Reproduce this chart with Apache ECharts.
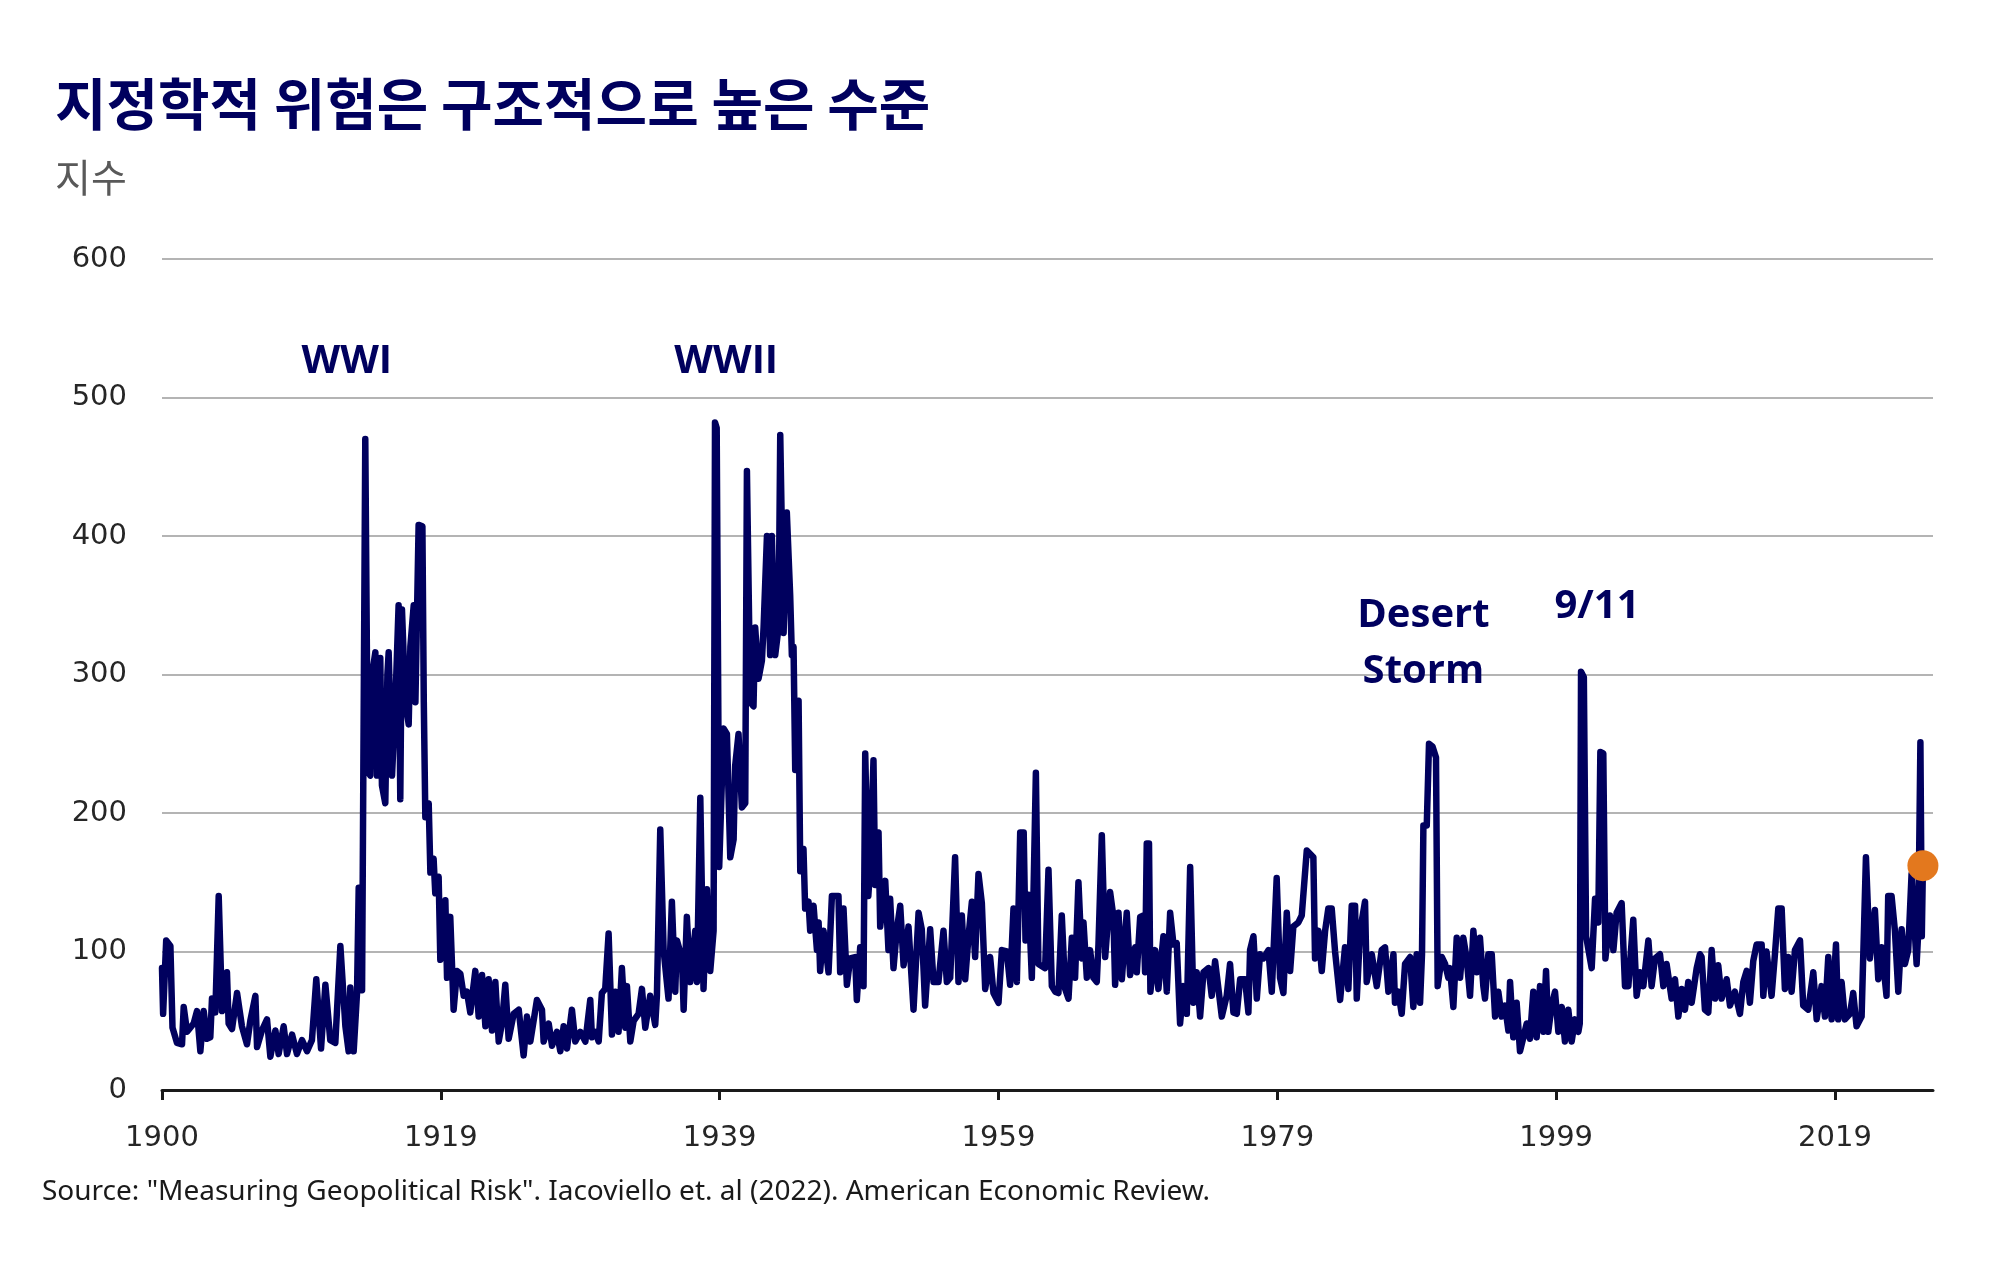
<!DOCTYPE html>
<html>
<head>
<meta charset="utf-8">
<script src="https://cdn.jsdelivr.net/npm/echarts@6/dist/echarts.min.js"></script>
<style>
  html, body { margin: 0; padding: 0; background: #fff; }
  #chart { width: 1994px; height: 1261px; }
</style>
</head>
<body>
<div id="chart"></div>
<script>
// GPR index as [year, value]
var gpr1900s = [
  [1900.00, 88], [1900.08, 55], [1900.3, 108], [1900.6, 104], [1900.75, 45], [1901.07, 34], [1901.43, 33],
  [1901.55, 60], [1901.79, 42], [1902.26, 48], [1902.5, 57], [1902.74, 28], [1902.98, 57], [1903.21, 37],
  [1903.45, 38], [1903.57, 66], [1903.81, 56], [1904.05, 140], [1904.29, 57], [1904.64, 85], [1904.76, 48],
  [1905.0, 44], [1905.36, 70], [1905.71, 46], [1906.07, 33], [1906.31, 50], [1906.67, 68], [1906.79, 31],
  [1907.14, 43], [1907.5, 51], [1907.74, 24], [1908.1, 43], [1908.33, 26], [1908.69, 46], [1908.93, 26],
  [1909.29, 40], [1909.64, 26], [1910.0, 36], [1910.36, 28], [1910.71, 36], [1911.02, 80], [1911.36, 30],
  [1911.67, 76], [1912.02, 36], [1912.38, 34], [1912.74, 104], [1913.1, 46], [1913.33, 28], [1913.45, 74],
  [1913.69, 28], [1913.93, 70], [1914.05, 146], [1914.29, 72]
];
var gpr1914s = [
  [1914.52, 470], [1914.7, 230], [1914.88, 227], [1915.0, 300], [1915.24, 316], [1915.36, 227], [1915.59, 312],
  [1915.71, 220], [1915.95, 207], [1916.1, 300], [1916.19, 316], [1916.43, 227], [1916.67, 280], [1916.9, 350],
  [1917.02, 210], [1917.14, 347], [1917.38, 280], [1917.62, 264], [1917.74, 320], [1917.98, 350], [1918.1, 280],
  [1918.33, 408], [1918.6, 407], [1918.7, 280], [1918.81, 197], [1919.05, 207], [1919.17, 157], [1919.4, 167],
  [1919.52, 142], [1919.76, 154], [1919.88, 94], [1920.24, 137], [1920.36, 81], [1920.59, 125], [1920.83, 58],
  [1921.07, 86], [1921.31, 84], [1921.55, 68], [1921.78, 71], [1922.02, 56], [1922.38, 86], [1922.62, 53],
  [1922.86, 83], [1923.1, 46], [1923.33, 80], [1923.57, 43], [1923.81, 78], [1924.05, 35], [1924.28, 48],
  [1924.52, 76], [1924.76, 37], [1925.12, 55], [1925.48, 58], [1925.83, 25], [1926.07, 53], [1926.31, 35],
  [1926.78, 65], [1927.14, 58], [1927.26, 35], [1927.62, 48], [1927.86, 32], [1928.21, 42], [1928.45, 28],
  [1928.69, 46], [1928.93, 30], [1929.28, 58], [1929.52, 35], [1929.88, 42], [1930.24, 35]
];
var gpr1930s = [
  [1930.59, 65], [1930.71, 38], [1930.95, 42], [1931.19, 35], [1931.42, 70], [1931.66, 73], [1931.9, 113],
  [1932.14, 40], [1932.38, 71], [1932.61, 42], [1932.85, 88], [1933.09, 45], [1933.21, 75], [1933.45, 35],
  [1933.69, 50], [1934.04, 55], [1934.28, 73], [1934.52, 45], [1934.87, 68], [1935.23, 47], [1935.35, 68],
  [1935.59, 188], [1935.83, 101], [1936.18, 66], [1936.42, 136], [1936.66, 71], [1936.78, 108], [1937.14, 95],
  [1937.26, 58], [1937.49, 125], [1937.73, 78], [1938.09, 115], [1938.21, 78], [1938.45, 211], [1938.68, 73],
  [1938.92, 145], [1939.16, 86], [1939.4, 115], [1939.5, 482], [1939.62, 478], [1939.8, 161], [1940.11, 261],
  [1940.35, 257], [1940.59, 168], [1940.83, 181], [1940.94, 234], [1941.18, 257], [1941.42, 204], [1941.66, 207],
  [1941.78, 447], [1942.02, 280], [1942.25, 277], [1942.37, 334], [1942.61, 297], [1942.85, 310], [1942.97, 334],
  [1943.21, 400], [1943.44, 314], [1943.56, 400], [1943.8, 314], [1944.04, 334], [1944.16, 473], [1944.4, 330],
  [1944.63, 417], [1944.87, 357], [1944.99, 314], [1945.11, 320], [1945.23, 231], [1945.47, 281], [1945.59, 158],
  [1945.82, 174], [1945.94, 131], [1946.18, 136], [1946.3, 115]
];
var gpr1946s = [
  [1946.54, 133], [1946.78, 101], [1946.9, 121], [1947.01, 86], [1947.25, 115], [1947.61, 85], [1947.85, 140],
  [1948.32, 140], [1948.44, 85], [1948.68, 131], [1948.92, 76], [1949.16, 95], [1949.51, 96], [1949.63, 65],
  [1949.87, 103], [1950.11, 75], [1950.23, 243], [1950.45, 140], [1950.58, 160], [1950.82, 238], [1950.94, 148],
  [1951.18, 186], [1951.3, 118], [1951.66, 151], [1951.89, 101], [1952.01, 138], [1952.25, 88], [1952.49, 116],
  [1952.73, 133], [1952.97, 90], [1953.32, 118], [1953.68, 58], [1954.04, 128], [1954.27, 116], [1954.51, 61],
  [1954.87, 116], [1955.11, 78], [1955.46, 78], [1955.82, 115], [1956.06, 78], [1956.3, 81], [1956.65, 168],
  [1956.89, 78], [1957.13, 126], [1957.37, 80], [1957.61, 111], [1957.85, 136], [1958.08, 96], [1958.32, 156],
  [1958.56, 135], [1958.8, 73], [1959.15, 96], [1959.39, 70], [1959.75, 63], [1959.99, 101], [1960.34, 100],
  [1960.58, 76], [1960.82, 131], [1961.06, 78], [1961.3, 186], [1961.55, 186], [1961.68, 108], [1961.89, 141],
  [1962.13, 81]
];
var gpr1962s = [
  [1962.42, 229], [1962.6, 91], [1963.08, 88], [1963.32, 159], [1963.56, 75], [1963.8, 71], [1964.03, 70],
  [1964.27, 126], [1964.51, 73], [1964.75, 66], [1964.99, 110], [1965.22, 81], [1965.46, 150], [1965.7, 95],
  [1965.82, 121], [1966.06, 81], [1966.29, 101], [1966.53, 81], [1966.77, 78], [1966.89, 105], [1967.13, 184],
  [1967.37, 96], [1967.72, 143], [1967.96, 125], [1968.08, 76], [1968.32, 128], [1968.56, 80], [1968.91, 128],
  [1969.15, 83], [1969.51, 103], [1969.63, 85], [1969.87, 125], [1970.1, 126], [1970.22, 85], [1970.34, 178],
  [1970.5, 178], [1970.6, 71], [1970.94, 101], [1971.17, 73], [1971.53, 111], [1971.77, 71], [1972.01, 128],
  [1972.25, 105], [1972.48, 106], [1972.72, 48], [1972.96, 75], [1973.2, 55], [1973.44, 161], [1973.67, 63],
  [1973.91, 85], [1974.15, 53], [1974.39, 85], [1974.75, 88], [1974.98, 68], [1975.22, 93], [1975.7, 53],
  [1976.05, 68], [1976.29, 91], [1976.53, 56], [1976.77, 55], [1977.01, 80], [1977.36, 80], [1977.6, 56],
  [1977.72, 101], [1977.96, 111]
];
var gpr1978s = [
  [1978.2, 66], [1978.43, 98], [1978.67, 95], [1979.03, 101], [1979.27, 71], [1979.62, 153], [1979.86, 81],
  [1980.1, 70], [1980.34, 128], [1980.58, 86], [1980.81, 118], [1981.17, 121], [1981.41, 126], [1981.77, 173],
  [1982.24, 168], [1982.36, 95], [1982.6, 115], [1982.84, 86], [1983.08, 115], [1983.31, 131], [1983.55, 131],
  [1983.79, 100], [1984.15, 65], [1984.5, 103], [1984.74, 73], [1984.98, 133], [1985.22, 133], [1985.34, 66],
  [1985.58, 115], [1985.93, 136], [1986.05, 78], [1986.41, 98], [1986.77, 75], [1987.12, 101], [1987.36, 103],
  [1987.6, 71], [1987.96, 98], [1988.07, 63], [1988.31, 71], [1988.55, 55], [1988.79, 91], [1989.15, 96],
  [1989.38, 60], [1989.62, 98], [1989.86, 63], [1990.0, 98], [1990.1, 191], [1990.34, 191], [1990.5, 250],
  [1990.75, 248], [1991.0, 240], [1991.12, 75], [1991.41, 96], [1991.65, 91], [1991.88, 81], [1992.0, 88],
  [1992.24, 60], [1992.48, 110], [1992.72, 81], [1992.95, 110], [1993.19, 95], [1993.43, 68], [1993.67, 115],
  [1993.91, 85], [1994.14, 110]
];
var gpr1994s = [
  [1994.38, 75], [1994.5, 66], [1994.74, 98], [1994.98, 98], [1995.22, 53], [1995.45, 71], [1995.69, 53],
  [1995.93, 61], [1996.17, 43], [1996.29, 78], [1996.52, 38], [1996.76, 63], [1997.0, 28], [1997.24, 38],
  [1997.48, 48], [1997.71, 37], [1997.95, 71], [1998.19, 38], [1998.43, 75], [1998.67, 42], [1998.86, 86],
  [1999.02, 42], [1999.26, 61], [1999.5, 71], [1999.74, 42], [1999.98, 60], [2000.21, 35], [2000.45, 58],
  [2000.69, 35], [2000.93, 51], [2001.17, 42], [2001.27, 48], [2001.36, 302], [2001.56, 298], [2001.72, 111],
  [2002.12, 88], [2002.36, 138], [2002.59, 121], [2002.74, 244], [2002.95, 243], [2003.1, 95], [2003.43, 126],
  [2003.67, 101], [2003.9, 128], [2004.26, 135], [2004.5, 75], [2004.74, 75], [2005.09, 123], [2005.33, 68],
  [2005.57, 85], [2005.81, 75], [2006.17, 108], [2006.4, 75], [2006.64, 95], [2007.0, 98], [2007.24, 75],
  [2007.47, 91], [2007.83, 66], [2008.07, 80], [2008.31, 53], [2008.55, 73], [2008.78, 58], [2009.02, 78],
  [2009.26, 63], [2009.62, 88], [2009.85, 98]
];
var gpr2010s = [
  [2009.97, 96], [2010.21, 58], [2010.45, 56], [2010.69, 101], [2010.93, 66], [2011.16, 90], [2011.4, 66],
  [2011.76, 80], [2012.0, 61], [2012.35, 71], [2012.71, 55], [2012.95, 78], [2013.19, 86], [2013.42, 63],
  [2013.66, 93], [2013.9, 105], [2014.26, 105], [2014.38, 68], [2014.61, 100], [2014.97, 68], [2015.21, 98],
  [2015.45, 131], [2015.69, 131], [2015.92, 73], [2016.16, 96], [2016.4, 71], [2016.64, 101], [2017.0, 108],
  [2017.23, 61], [2017.59, 58], [2017.95, 85], [2018.19, 51], [2018.54, 75], [2018.78, 53], [2019.02, 96],
  [2019.26, 51], [2019.57, 105], [2019.73, 51], [2019.97, 78], [2020.21, 51], [2020.57, 55], [2020.8, 70],
  [2021.04, 46], [2021.4, 53], [2021.71, 168], [2021.99, 95], [2022.35, 130], [2022.59, 80], [2022.83, 103],
  [2023.18, 68], [2023.3, 140], [2023.54, 140], [2023.78, 115], [2024.02, 71], [2024.26, 116], [2024.49, 91],
  [2024.73, 101], [2024.97, 156], [2025.33, 91], [2025.45, 115], [2025.6, 251], [2025.7, 111], [2025.78, 162]
];

var xTickYears = [1900, 1919.917, 1939.833, 1959.75, 1979.667, 1999.583, 2019.5];
var xTickLabels = ['1900', '1919', '1939', '1959', '1979', '1999', '2019'];

var eventNames = ['WWI', 'WWII', 'Desert\nStorm', '9/11'];
var eventYears = [1913.2, 1940.3, 1990.1, 2002.5];
var eventLevels = [526, 526, 322, 349];

var titleText = '지정학적 위험은 구조적으로 높은 수준';
var unitText = '지수';
var sourceText = 'Source: "Measuring Geopolitical Risk". Iacoviello et. al (2022). American Economic Review.';

var gprAll = [].concat(gpr1900s, gpr1914s, gpr1930s, gpr1946s, gpr1962s, gpr1978s, gpr1994s, gpr2010s);
var latest = gprAll[gprAll.length - 1];

var navy = '#00005E';
var chart = echarts.init(document.getElementById('chart'));
var option = {
  animation: false,
  backgroundColor: '#ffffff',
  grid: { left: 162, right: 61, top: 259, bottom: 171 },
  xAxis: {
    type: 'value',
    min: 1900,
    max: 2026.5,
    axisLine: { show: true, lineStyle: { color: '#1a1a1a', width: 3 } },
    axisTick: { show: true, length: 10, customValues: xTickYears, lineStyle: { color: '#1a1a1a', width: 3 } },
    axisLabel: {
      customValues: xTickYears,
      margin: 34,
      fontFamily: 'DejaVu Sans',
      fontSize: 29,
      color: '#262626',
      formatter: function (v) {
        var best = 0;
        for (var i = 1; i < xTickYears.length; i++) {
          if (Math.abs(xTickYears[i] - v) < Math.abs(xTickYears[best] - v)) best = i;
        }
        return xTickLabels[best];
      }
    },
    splitLine: { show: false }
  },
  yAxis: {
    type: 'value',
    min: 0,
    max: 600,
    interval: 100,
    axisLine: { show: false },
    axisTick: { show: false },
    axisLabel: { margin: 35, fontFamily: 'DejaVu Sans', fontSize: 29, color: '#262626' },
    splitLine: { lineStyle: { color: '#B4B4B4', width: 2 } }
  },
  graphic: [
    {
      type: 'text', x: 55, y: 104,
      style: { text: titleText, font: 'bold 56px "Noto Sans CJK KR"', fill: navy, verticalAlign: 'middle' }
    },
    {
      type: 'text', x: 55, y: 177,
      style: { text: unitText, font: '39px "Noto Sans CJK KR"', fill: '#595959', verticalAlign: 'middle' }
    },
    {
      type: 'text', x: 42, y: 1192,
      style: { text: sourceText, font: '28px "Noto Sans"', fill: '#1a1a1a', verticalAlign: 'middle' }
    }
  ],
  series: [
    {
      name: 'GPR',
      type: 'line',
      data: gprAll,
      showSymbol: false,
      sampling: null,
      lineStyle: { color: navy, width: 6.5, join: 'round', cap: 'round' },
      z: 3,
      markPoint: {
        silent: true,
        symbol: 'circle',
        symbolSize: 0,
        label: {
          show: true,
          position: 'inside',
          formatter: '{b}',
          color: navy,
          fontFamily: 'Open Sans',
          fontWeight: 'bold',
          fontSize: 40,
          lineHeight: 56
        },
        data: eventNames.map(function (n, i) {
          return { name: n, coord: [eventYears[i], eventLevels[i]] };
        })
      }
    },
    {
      name: 'latest',
      type: 'scatter',
      data: [latest],
      symbolSize: 31,
      itemStyle: { color: '#E3781E', opacity: 1 },
      z: 5
    }
  ]
};
chart.setOption(option);
</script>
</body>
</html>
